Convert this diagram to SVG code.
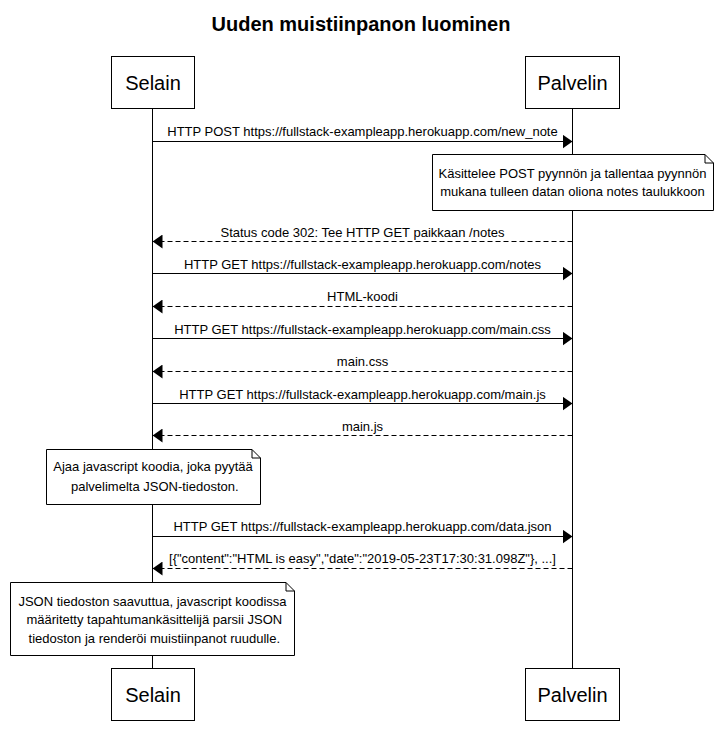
<svg xmlns="http://www.w3.org/2000/svg" width="722" height="745" viewBox="0 0 722 745">
<style>
text{font-family:"Liberation Sans",Arial,sans-serif;fill:#000;white-space:pre}
.title{font-size:20px;font-weight:bold;text-anchor:middle}
.actor rect{fill:#fff;stroke:#000;stroke-width:1}
.actor text{font-size:20px;text-anchor:middle}
.life{stroke:#000;stroke-width:1;fill:none}
.msg{stroke:#000;stroke-width:1;fill:none}
.ret{stroke:#000;stroke-width:1;fill:none;stroke-dasharray:5,3}
.lbl{font-size:13px;text-anchor:middle}
.note path{fill:#fff;stroke:#000;stroke-width:1}
.note text{font-size:13px;text-anchor:middle}
</style>
<defs>
<marker id="ah" viewBox="0 0 10 14" refX="10" refY="7" markerWidth="10" markerHeight="14" markerUnits="userSpaceOnUse" orient="auto">
<path d="M0,0 L10,7 L0,14 Z" fill="#000"/>
</marker>
</defs>
<rect width="722" height="745" fill="#fff"/>
<text class="title" x="361" y="31">Uuden muistiinpanon luominen</text>
<g id="lifelines">
<line class="life" x1="152.5" y1="109" x2="152.5" y2="668"/>
<line class="life" x1="572.5" y1="109" x2="572.5" y2="668"/>
</g>
<g id="actor-selain-top" class="actor"><rect x="111.5" y="56.5" width="83" height="52"/><text x="153" y="90">Selain</text></g>
<g id="actor-palvelin-top" class="actor"><rect x="525.5" y="56.5" width="94" height="52"/><text x="572.5" y="90">Palvelin</text></g>
<g id="actor-selain-bottom" class="actor"><rect x="111.5" y="668.5" width="83" height="52"/><text x="153" y="702">Selain</text></g>
<g id="actor-palvelin-bottom" class="actor"><rect x="525.5" y="668.5" width="94" height="52"/><text x="572.5" y="702">Palvelin</text></g>
<g id="connectors">
<line class="msg" x1="152.5" y1="141.5" x2="572.5" y2="141.5" marker-end="url(#ah)"/>
<text class="lbl" x="362.5" y="136">HTTP POST https://fullstack-exampleapp.herokuapp.com/new_note</text>
<line class="ret" x1="572.5" y1="241.5" x2="152.5" y2="241.5" marker-end="url(#ah)"/>
<text class="lbl" x="362.5" y="237">Status code 302: Tee HTTP GET paikkaan /notes</text>
<line class="msg" x1="152.5" y1="273.5" x2="572.5" y2="273.5" marker-end="url(#ah)"/>
<text class="lbl" x="362.5" y="269">HTTP GET https://fullstack-exampleapp.herokuapp.com/notes</text>
<line class="ret" x1="572.5" y1="306.5" x2="152.5" y2="306.5" marker-end="url(#ah)"/>
<text class="lbl" x="362.5" y="301">HTML-koodi</text>
<line class="msg" x1="152.5" y1="338.5" x2="572.5" y2="338.5" marker-end="url(#ah)"/>
<text class="lbl" x="362.5" y="334">HTTP GET https://fullstack-exampleapp.herokuapp.com/main.css</text>
<line class="ret" x1="572.5" y1="371.5" x2="152.5" y2="371.5" marker-end="url(#ah)"/>
<text class="lbl" x="362.5" y="366">main.css</text>
<line class="msg" x1="152.5" y1="403.5" x2="572.5" y2="403.5" marker-end="url(#ah)"/>
<text class="lbl" x="362.5" y="399">HTTP GET https://fullstack-exampleapp.herokuapp.com/main.js</text>
<line class="ret" x1="572.5" y1="435.5" x2="152.5" y2="435.5" marker-end="url(#ah)"/>
<text class="lbl" x="362.5" y="431">main.js</text>
<line class="msg" x1="152.5" y1="536.5" x2="572.5" y2="536.5" marker-end="url(#ah)"/>
<text class="lbl" x="362.5" y="531">HTTP GET https://fullstack-exampleapp.herokuapp.com/data.json</text>
<line class="ret" x1="572.5" y1="568.5" x2="152.5" y2="568.5" marker-end="url(#ah)"/>
<text class="lbl" x="362.5" y="563">[{"content":"HTML is easy","date":"2019-05-23T17:30:31.098Z"}, ...]</text>
</g>
<g id="note-1" class="note">
<path d="M432.5,154.5 H705 L713.5,163 V210.5 H432.5 Z M705,154.5 V163 H713.5"/>
<text x="572.5" y="178">Käsittelee POST pyynnön ja tallentaa pyynnön</text>
<text x="572.5" y="196">mukana tulleen datan oliona notes taulukkoon</text>
</g>
<g id="note-2" class="note">
<path d="M46.5,449.5 H252 L260.5,458 V504.5 H46.5 Z M252,449.5 V458 H260.5"/>
<text x="153" y="471">Ajaa javascript koodia, joka pyytää</text>
<text x="153" y="491"> palvelimelta JSON-tiedoston.</text>
</g>
<g id="note-3" class="note">
<path d="M10.5,582.5 H286 L294.5,591 V655.5 H10.5 Z M286,582.5 V591 H294.5"/>
<text x="152.5" y="606">JSON tiedoston saavuttua, javascript koodissa</text>
<text x="152.5" y="624"> määritetty tapahtumankäsittelijä parsii JSON</text>
<text x="152.5" y="643"> tiedoston ja renderöi muistiinpanot ruudulle.</text>
</g>
</svg>
